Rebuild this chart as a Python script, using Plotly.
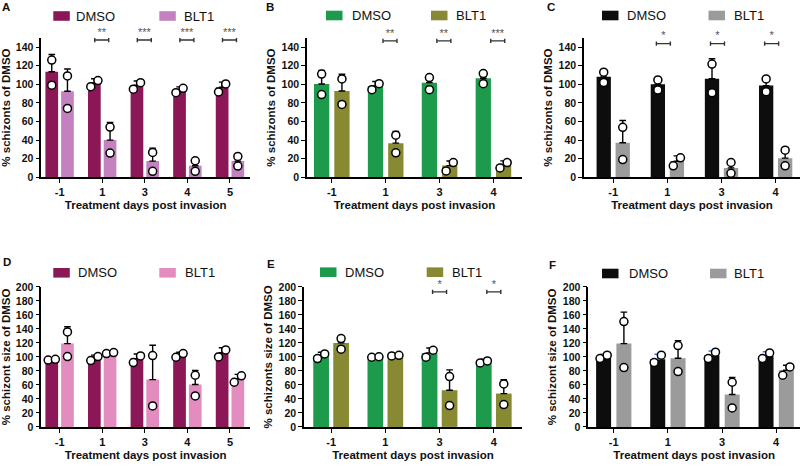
import plotly.graph_objects as go

FONT = "Arial, Liberation Sans, Helvetica, sans-serif"

# ---------------- data ----------------
# Panel A – % schizonts of DMSO
A_cats = ["-1", "1", "3", "4", "5"]
A_dmso_mean = [113.5, 101.4, 99.0, 94.0, 96.8]
A_dmso_sd = [18.5, 4.6, 4.5, 3.2, 5.5]
A_dmso_reps = [[126, 99], [97.5, 104], [94.7, 101.8], [91, 95.7], [91.8, 100.4]]
A_blt_mean = [92.5, 40.0, 17.4, 12.5, 17.4]
A_blt_sd = [24, 19, 14, 7, 7]
A_blt_reps = [[109, 74], [54, 26], [26.7, 6.4], [17.8, 6.4], [22.4, 12.1]]
A_sig = ["", "**", "***", "***", "***"]

# Panel B
B_cats = ["-1", "1", "3", "4"]
B_dmso_mean = [100.4, 98.2, 101.8, 106.5]
B_dmso_sd = [14.6, 4.8, 7.9, 6.8]
B_dmso_reps = [[111, 89], [94.2, 100.7], [107.2, 94.2], [111.5, 100.7]]
B_blt_mean = [92.8, 36.7, 12.6, 13.7]
B_blt_sd = [18, 12.6, 5, 4]
B_blt_reps = [[105.8, 78.4], [45.3, 26.3], [6.8, 15.8], [10, 15.8]]
B_sig = ["", "**", "**", "***"]

# Panel C
C_cats = ["-1", "1", "3", "4"]
C_dmso_mean = [108, 100, 106, 98.6]
C_dmso_sd = [6.4, 5.8, 21.4, 9.7]
C_dmso_reps = [[113, 102], [104.7, 93.9], [121.7, 91], [105.8, 92]]
C_blt_mean = [37.2, 17.3, 10.1, 20.6]
C_blt_sd = [23.8, 5.7, 7.2, 11.5]
C_blt_reps = [[53.8, 19.1], [12.3, 21], [15.9, 4.3], [29.2, 12.3]]
C_sig = ["", "*", "*", "*"]

# Panel D – % schizont size of DMSO
D_cats = ["-1", "1", "3", "4", "5"]
D_dmso_mean = [96.0, 98.5, 97.6, 102.9, 106.0]
D_dmso_sd = [0.7, 4.0, 6.5, 3.8, 7.0]
D_dmso_reps = [[95.5, 96.5], [94.8, 100.5], [91.9, 101.4], [99.5, 104.8], [100, 110]]
D_blt_mean = [119, 105, 67.6, 60.5, 68.6]
D_blt_sd = [24, 1, 49, 20, 6.5]
D_blt_reps = [[135.7, 100.5], [104.8, 106.2], [101.9, 30], [73.8, 44.3], [63.8, 72.9]]

# Panel E
E_cats = ["-1", "1", "3", "4"]
E_dmso_mean = [101.9, 101.0, 105.7, 94.8]
E_dmso_sd = [4.8, 0.5, 7.0, 2.0]
E_dmso_reps = [[97.6, 104.3], [99.5, 100.2], [99.5, 109.5], [91.4, 94.3]]
E_blt_mean = [120, 101.9, 52.4, 47.6]
E_blt_sd = [10, 0.5, 29, 20]
E_blt_reps = [[126.2, 111], [101.4, 102.2], [71.9, 30.5], [61.4, 31.9]]
E_sig = ["", "", "*", "*"]

# Panel F
F_cats = ["-1", "1", "3", "4"]
F_dmso_mean = [100, 96.7, 102.4, 101.4]
F_dmso_sd = [4, 7, 6, 6]
F_dmso_reps = [[97.6, 102.4], [91.9, 102.4], [97.6, 106.7], [97.6, 105.7]]
F_blt_mean = [119, 98, 46.2, 81]
F_blt_sd = [45, 25, 24.3, 7]
F_blt_reps = [[150.5, 84.8], [116.2, 79], [63.8, 27.1], [73.8, 85.7]]

X_TITLE = "Treatment days post invasion"

# ---------------- styles / layout ----------------
MAROON = "#8C1756"
LILAC = "#C382BF"
PINK = "#E38CBF"
GREEN = "#1D9A4B"
OLIVE = "#878A33"
BLACK = "#0d0d0d"
GREY = "#9B9B9B"

TOP = (177.3, 37.8)   # px of y-range bottom / top (row 1)
BOT = (426.9, 286.9)  # row 2

panels = [
    dict(cats=A_cats, dm=A_dmso_mean, dsd=A_dmso_sd, dreps=A_dmso_reps,
         bm=A_blt_mean, bsd=A_blt_sd, breps=A_blt_reps, sig=A_sig,
         xdom=(41.3, 250), ypx=TOP, xr=(-0.43, 4.47), yr=(0, 150),
         barw=12.7, gap=3.0, c1=MAROON, c2=LILAC, e1="black",
         ytitle="% schizonts of DMSO", legy=16, leg=(53.3, 74, 159.3, 182.3),
         letter=("A", 6.3, 6.5), bry=147.6, brshift=-0.5),
    dict(cats=B_cats, dm=B_dmso_mean, dsd=B_dmso_sd, dreps=B_dmso_reps,
         bm=B_blt_mean, bsd=B_blt_sd, breps=B_blt_reps, sig=B_sig,
         xdom=(307, 522), ypx=TOP, xr=(-0.46, 3.53), yr=(0, 150),
         barw=15.3, gap=5.0, c1=GREEN, c2=OLIVE, e1="black",
         ytitle="% schizonts of DMSO", legy=15.5, leg=(326, 350, 431, 454),
         letter=("B", 270, 6.7), bry=146.7, brshift=4.3),
    dict(cats=C_cats, dm=C_dmso_mean, dsd=C_dmso_sd, dreps=C_dmso_reps,
         bm=C_blt_mean, bsd=C_blt_sd, breps=C_blt_reps, sig=C_sig,
         xdom=(584, 800), ypx=TOP, xr=(-0.54, 3.45), yr=(0, 150),
         barw=14.3, gap=4.7, c1=BLACK, c2=GREY, e1="black",
         ytitle="% schizonts of DMSO", legy=15.5, leg=(602, 625, 708.5, 732),
         letter=("C", 550.8, 7), bry=143.7, brshift=-4.0),
    dict(cats=D_cats, dm=D_dmso_mean, dsd=D_dmso_sd, dreps=D_dmso_reps,
         bm=D_blt_mean, bsd=D_blt_sd, breps=D_blt_reps, sig=None,
         xdom=(41.3, 250), ypx=BOT, xr=(-0.43, 4.47), yr=(0, 200),
         barw=12.7, gap=3.0, c1=MAROON, c2=PINK, e1="black",
         ytitle="% schizont size of DMSO", legy=272.8, leg=(53.3, 76, 159.3, 182.7),
         letter=("D", 6.7, 262), bry=None, brshift=0),
    dict(cats=E_cats, dm=E_dmso_mean, dsd=E_dmso_sd, dreps=E_dmso_reps,
         bm=E_blt_mean, bsd=E_blt_sd, breps=E_blt_reps, sig=E_sig,
         xdom=(304, 522), ypx=BOT, xr=(-0.5, 3.52), yr=(0, 200),
         barw=15.7, gap=4.3, c1=GREEN, c2=OLIVE, e1="black",
         ytitle="% schizonts size of DMSO", legy=272.2, leg=(320, 343.3, 426.7, 450),
         letter=("E", 270.5, 263.7), bry=192.9, brshift=0),
    dict(cats=F_cats, dm=F_dmso_mean, dsd=F_dmso_sd, dreps=F_dmso_reps,
         bm=F_blt_mean, bsd=F_blt_sd, breps=F_blt_reps, sig=None,
         xdom=(588.3, 800), ypx=BOT, xr=(-0.47, 3.44), yr=(0, 200),
         barw=15.0, gap=5.3, c1=BLACK, c2=GREY, e1="#3B6FD1",
         ytitle="% schizont size of DMSO", legy=273.5, leg=(602, 626.7, 710, 732.3),
         letter=("F", 552, 264.5), bry=None, brshift=0),
]

W, H = 800, 465


def fx(px):
    return px / W


def fy(px):
    return 1 - px / H


fig = go.Figure()
shapes = []
annotations = []
layout_axes = {}

DOT_SPREAD_PX = 9.0
DOT_JIT_PX = 3.6

for k, p in enumerate(panels):
    suf = "" if k == 0 else str(k + 1)
    xa, ya = "x" + suf, "y" + suf
    n = len(p["cats"])
    xs = list(range(n))
    x0px, x1px = p["xdom"]
    ppu = (x1px - x0px) / (p["xr"][1] - p["xr"][0])
    yb, yt = p["ypx"]
    yppu = (yb - yt) / (p["yr"][1] - p["yr"][0])
    w = p["barw"] / ppu
    g = p["gap"] / ppu
    off1 = -(w + g / 2)
    off2 = g / 2
    cen1 = [i + off1 + w / 2 for i in xs]
    cen2 = [i + off2 + w / 2 for i in xs]

    for means, sds, off, col, ecol in [(p["dm"], p["dsd"], off1, p["c1"], p["e1"]),
                                       (p["bm"], p["bsd"], off2, p["c2"], "black")]:
        fig.add_trace(go.Bar(
            x=xs, y=means, width=[w] * n, offset=off,
            marker=dict(color=col, line=dict(width=0)),
            error_y=dict(type="data", array=sds, arrayminus=[0] * n, symmetric=False,
                         color=ecol, thickness=1.4, width=3.3),
            xaxis=xa, yaxis=ya, showlegend=False, hoverinfo="skip"))

    # replicate dots
    dx, dy = [], []
    for cens, reps in [(cen1, p["dreps"]), (cen2, p["breps"])]:
        for c, r in zip(cens, reps):
            lo, hi = sorted(r)
            if (hi - lo) * yppu < DOT_SPREAD_PX:
                j = DOT_JIT_PX / ppu
                dx += [c - j, c + j]
            else:
                dx += [c, c]
            dy += [lo, hi]
    fig.add_trace(go.Scatter(
        x=dx, y=dy, mode="markers", xaxis=xa, yaxis=ya, showlegend=False,
        marker=dict(size=8, color="white", line=dict(color="black", width=1.5)),
        cliponaxis=False, hoverinfo="skip"))

    # significance brackets
    if p["sig"]:
        bx, by, bt = [], [], []
        for i, s in enumerate(p["sig"]):
            if s:
                bx.append(i + p["brshift"] / ppu)
                by.append(p["bry"])
                bt.append(s)
        fig.add_trace(go.Scatter(
            x=bx, y=by, mode="markers+text", text=bt, textposition="top center",
            textfont=dict(family=FONT, size=11, color="#555555"),
            marker=dict(size=1, color="rgba(0,0,0,0)"),
            error_x=dict(type="constant", value=7.0 / ppu, color="#333333",
                         thickness=1.4, width=2.2),
            xaxis=xa, yaxis=ya, showlegend=False, cliponaxis=False, hoverinfo="skip"))

    xkey = "xaxis" + suf
    ykey = "yaxis" + suf
    layout_axes[xkey] = dict(
        domain=[fx(x0px), fx(x1px)], range=list(p["xr"]), anchor=ya,
        tickmode="array", tickvals=xs, ticktext=p["cats"],
        showline=True, linecolor="black", linewidth=1.6, showgrid=False, zeroline=False,
        ticks="outside", ticklen=4, tickwidth=1.4, tickcolor="black",
        tickfont=dict(family=FONT, size=11, color="#111", weight="bold"),
        title=dict(text=X_TITLE, standoff=4,
                   font=dict(family=FONT, size=11.5, color="#111", weight="bold")),
        automargin=False, fixedrange=True)
    layout_axes[ykey] = dict(
        domain=[fy(yb), fy(yt)], range=list(p["yr"]), anchor=xa,
        tick0=0, dtick=20,
        showline=True, linecolor="black", linewidth=1.6, showgrid=False, zeroline=False,
        ticks="outside", ticklen=4, tickwidth=1.4, tickcolor="black",
        tickfont=dict(family=FONT, size=10.5, color="#111", weight="bold"),
        title=dict(text=p["ytitle"], standoff=4,
                   font=dict(family=FONT, size=11.5, color="#111", weight="bold")),
        automargin=False, fixedrange=True)

    # legend (drawn manually: wide swatches like the original)
    r1, t1, r2, t2 = p["leg"]
    ly = p["legy"]
    for rx, tx, col, name in [(r1, t1, p["c1"], "DMSO"), (r2, t2, p["c2"], "BLT1")]:
        shapes.append(dict(type="rect", xref="paper", yref="paper",
                           x0=fx(rx), x1=fx(rx + 16.5), y0=fy(ly + 4.8), y1=fy(ly - 4.8),
                           fillcolor=col, line=dict(width=0)))
        annotations.append(dict(text=name, xref="paper", yref="paper", x=fx(tx), y=fy(ly),
                                xanchor="left", yanchor="middle", showarrow=False,
                                font=dict(family=FONT, size=13, color="#111")))
    lt, lx, lyy = p["letter"]
    annotations.append(dict(text="<b>%s</b>" % lt, xref="paper", yref="paper",
                            x=fx(lx), y=fy(lyy), xanchor="center", yanchor="middle",
                            showarrow=False, font=dict(family=FONT, size=11.5, color="#111")))

fig.update_layout(
    width=W, height=H, margin=dict(l=0, r=0, t=0, b=0),
    paper_bgcolor="white", plot_bgcolor="white",
    barmode="overlay", showlegend=False,
    shapes=shapes, annotations=annotations,
    font=dict(family=FONT),
    **layout_axes)

fig.write_html(
    "out.html",
    config={"displayModeBar": False},
    post_script="document.body.style.margin='0px';document.body.style.overflow='hidden';")
